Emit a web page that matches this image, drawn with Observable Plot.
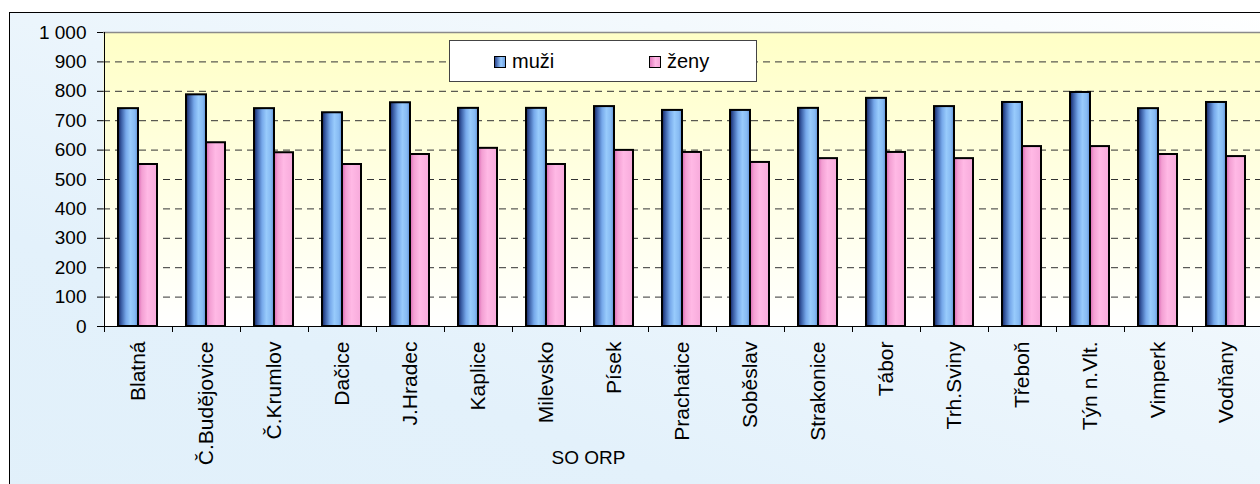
<!DOCTYPE html>
<html>
<head>
<meta charset="utf-8">
<script src="https://cdn.jsdelivr.net/npm/d3@7"></script>
<script src="https://cdn.jsdelivr.net/npm/@observablehq/plot@0.6"></script>
<style>
  html, body { margin: 0; padding: 0; width: 1260px; height: 484px; overflow: hidden; background: #fff; }
  #wrap { position: relative; width: 1260px; height: 484px; font-family: "Liberation Sans", Arial, sans-serif; }
  #bg { position: absolute; left: 9px; top: 12px; width: 1300px; height: 520px;
        border-left: 1px solid #000; border-top: 1px solid #000;
        background: linear-gradient(200deg, #ffffff 0%, #f3f9fd 25%, #e3f1fb 70%, #e1f0fa 100%); }
  #chart { position: absolute; left: 0; top: 0; }
  #legend { position: absolute; left: 449px; top: 40px; width: 306px; height: 40px;
            background: #fff; border: 1px solid #444; font-size: 20px; color: #000; }
  .lg { position: absolute; top: 9px; display: flex; align-items: center; }
  .sw { width: 10px; height: 10px; border: 1.5px solid #000; margin-right: 6px; }
</style>
</head>
<body>
<div id="wrap">
  <div id="bg"></div>
  <div id="chart"></div>
  <div id="legend">
    <div class="lg" style="left:44px"><div class="sw" style="background:linear-gradient(90deg,#2a4590,#99ccff 60%,#6e9fe0)"></div><span id="l0"></span></div>
    <div class="lg" style="left:199px"><div class="sw" style="background:linear-gradient(90deg,#e27cbf,#ffb8e4 55%,#f5a6d8)"></div><span id="l1"></span></div>
  </div>
</div>
<script>
const categories = ["Blatná","Č.Budějovice","Č.Krumlov","Dačice","J.Hradec","Kaplice","Milevsko","Písek","Prachatice","Soběslav","Strakonice","Tábor","Trh.Sviny","Třeboň","Týn n.Vlt.","Vimperk","Vodňany"];
const seriesNames = ["muži","ženy"];
const muzi = [741,788,741,727,761,742,742,748,735,735,742,776,748,762,796,741,762];
const zeny = [551,625,591,551,585,606,551,599,592,558,571,592,571,612,612,585,578];
const yTicks = [0,100,200,300,400,500,600,700,800,900,1000];
const gridTicks = [100,200,300,400,500,600,700,800,900];
const axisTitle = "SO ORP";

document.getElementById("l0").textContent = seriesNames[0];
document.getElementById("l1").textContent = seriesNames[1];

const dataM = categories.map((c, i) => ({cat: c, v: muzi[i]}));
const dataZ = categories.map((c, i) => ({cat: c, v: zeny[i]}));

const loc = d3.formatLocale({decimal: ",", thousands: " ", grouping: [3], currency: ["", ""]});
const fmt = loc.format(",d");

const defs = () => {
  const d = d3.create("svg:defs");
  const g1 = d.append("linearGradient").attr("id", "plotbg").attr("x1", 0).attr("y1", 0).attr("x2", 0).attr("y2", 1);
  g1.append("stop").attr("offset", "0%").attr("stop-color", "#ffffc6");
  g1.append("stop").attr("offset", "100%").attr("stop-color", "#ffffff");
  const g2 = d.append("linearGradient").attr("id", "gblue").attr("x1", 0).attr("y1", 0).attr("x2", 1).attr("y2", 0);
  [["0%","#12205a"],["15%","#36589f"],["40%","#76a8ea"],["62%","#98cbfc"],["85%","#86baf2"],["100%","#5a8ad2"]]
    .forEach(([o,c]) => g2.append("stop").attr("offset", o).attr("stop-color", c));
  const g3 = d.append("linearGradient").attr("id", "gpink").attr("x1", 0).attr("y1", 0).attr("x2", 1).attr("y2", 0);
  [["0%","#d866b2"],["20%","#f39fd3"],["50%","#ffb9e5"],["100%","#f7aadb"]]
    .forEach(([o,c]) => g3.append("stop").attr("offset", o).attr("stop-color", c));
  return d.node();
};

const chart = Plot.plot({
  width: 1260,
  height: 484,
  marginLeft: 103,
  marginTop: 32,
  marginBottom: 158,
  marginRight: 0,
  style: {background: "transparent", fontFamily: "'Liberation Sans', Arial, sans-serif", color: "#000"},
  x: {domain: categories, padding: 0, label: null},
  y: {domain: [0, 1000], label: null},
  marks: [
    defs,
    Plot.frame({fill: "url(#plotbg)", stroke: null}),
    Plot.ruleY([1000], {stroke: "#8a8a8a", strokeWidth: 1.5}),
    Plot.ruleY(gridTicks, {stroke: "#333", strokeDasharray: "7,5", strokeWidth: 1}),
    Plot.barY(dataM, {x: "cat", y: "v", insetLeft: 14, insetRight: 34, fill: "url(#gblue)", stroke: "#000", strokeWidth: 2}),
    Plot.barY(dataZ, {x: "cat", y: "v", insetLeft: 34, insetRight: 15, fill: "url(#gpink)", stroke: "#000", strokeWidth: 2}),
    Plot.ruleY([0], {stroke: "#000", strokeWidth: 1}),
    Plot.ruleX([categories[0]], {dx: -34, stroke: "#000", strokeWidth: 1}),
    Plot.axisY({ticks: yTicks, tickSize: 6, tickPadding: 11, tickFormat: fmt, fontSize: 19, label: null}),
    Plot.axisX({tickSize: 6, tickFormat: () => "", dx: -34, label: null}),
    Plot.axisX({tickSize: 0, tickPadding: 15, tickRotate: -90, fontSize: 21, label: null}),
    Plot.text([axisTitle], {frameAnchor: "bottom-left", dx: 485, dy: 137, fontSize: 19, textAnchor: "middle", fill: "#000"})
  ]
});
document.getElementById("chart").appendChild(chart);
</script>
</body>
</html>
